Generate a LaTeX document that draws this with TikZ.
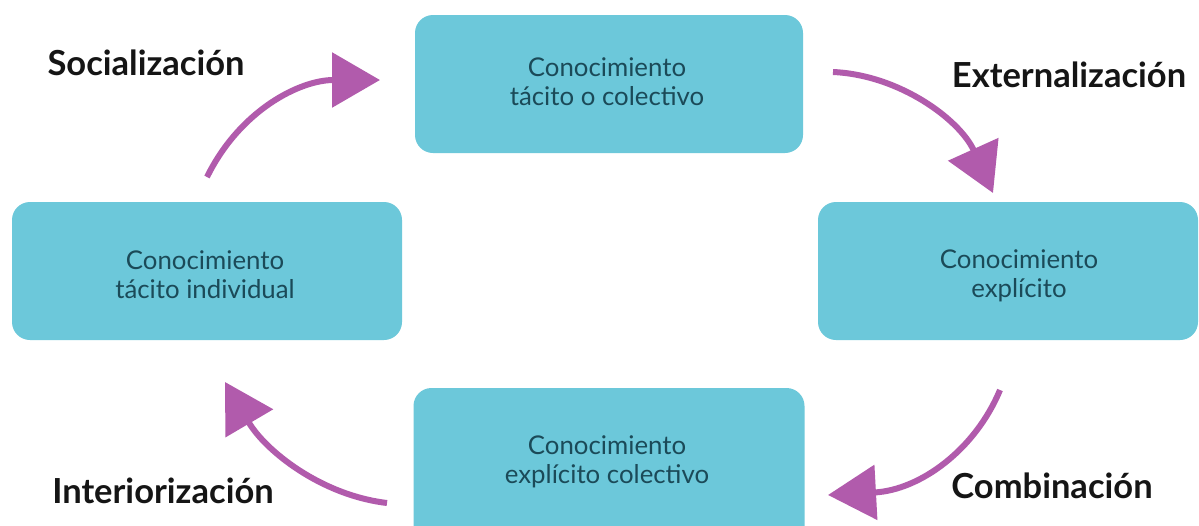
\documentclass[tikz,border=0pt]{standalone}
\usepackage{fontspec}
\setmainfont{Lato}
\usetikzlibrary{arrows.meta}
\definecolor{boxfill}{HTML}{6CC8DA}
\definecolor{boxtext}{HTML}{1B4A58}
\definecolor{arrowc}{HTML}{B15BAC}
\definecolor{labelc}{HTML}{151515}
\tikzset{
  kbox/.style={fill=boxfill, draw=none, rounded corners=18pt, inner sep=0pt, outer sep=0pt},
  ktext/.style={text=boxtext, align=center, font=\fontsize{25.8}{29}\selectfont, inner sep=0pt},
  klabel/.style={text=labelc, anchor=base, font=\fontsize{34.5}{38}\selectfont\bfseries, inner sep=0pt},
  karrow/.style={draw=arrowc, line width=6pt, -{Triangle[length=48pt,width=54pt]}}
}
\begin{document}
\begin{tikzpicture}[x=1pt,y=-1pt]
\clip (0,0) rectangle (1199,525);
\fill[white] (0,0) rectangle (1199,525);
% boxes
\node[kbox, minimum width=388pt, minimum height=138pt] (tc) at (609,84) {};
\node[ktext] (tct) at (607,82) {Conocimiento\\tácito o colectivo};
\node[kbox, minimum width=390pt, minimum height=138pt] (ti) at (207,271) {};
\node[ktext] (tit) at (205,275) {Conocimiento\\tácito individual};
\node[kbox, minimum width=380pt, minimum height=138pt] (ex) at (1008,271) {};
\node[ktext] (ext) at (1019,276) {Conocimiento\\explícito};
\node[kbox, minimum width=391pt, minimum height=180pt] (ec) at (609,478) {};
\node[ktext] (ect) at (607,462) {Conocimiento\\explícito colectivo};
% labels
\node[klabel] (soc) at (146,75) {Socialización};
\node[klabel] (ext-l) at (1069,87) {Externalización};
\node[klabel] (com) at (1052,498) {Combinación};
\node[klabel] (int) at (163,503) {Interiorización};
% arrow end points
\coordinate (a1s) at (207,177);
\coordinate (a1e) at (380,80);
\coordinate (a2s) at (833,72);
\coordinate (a2e) at (993,193);
\coordinate (a3s) at (1000,390);
\coordinate (a3e) at (828,495);
\coordinate (a4s) at (387,503);
\coordinate (a4e) at (225,382);
\draw[karrow] (a1s) .. controls (240,110) and (300,80) .. (a1e);
\draw[karrow] (a2s) .. controls (900,75) and (960,120) .. (a2e);
\draw[karrow] (a3s) .. controls (975,450) and (920,490) .. (a3e);
\draw[karrow] (a4s) .. controls (320,495) and (265,450) .. (a4e);
\end{tikzpicture}
\end{document}
